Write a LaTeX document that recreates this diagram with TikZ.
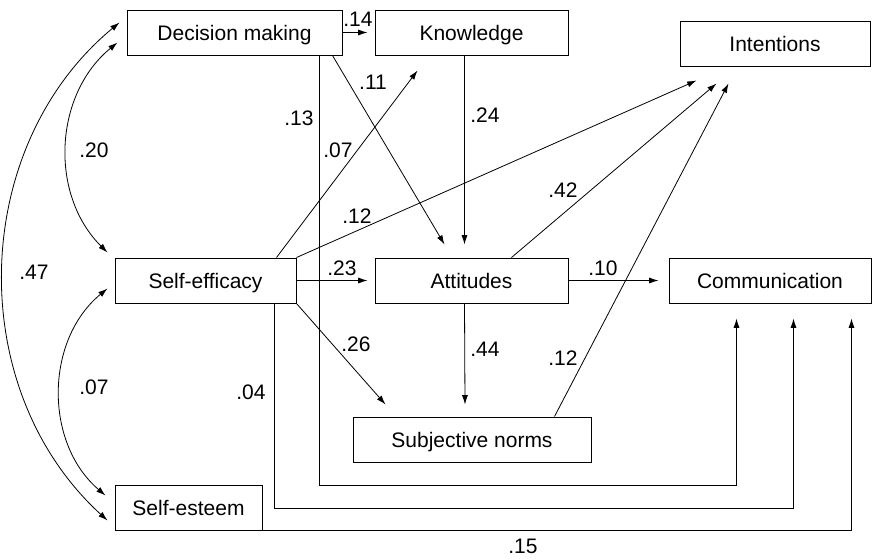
\documentclass[tikz,border=0pt]{standalone}
\usepackage{fontspec}
\setmainfont{Liberation Sans}
\usetikzlibrary{arrows.meta,calc}
\begin{document}
\begin{tikzpicture}[x=0.75pt, y=-0.75pt, font=\fontsize{15.75}{18}\selectfont,
  box/.style={draw, line width=0.75pt, minimum height=33.75pt, inner sep=0pt,
    text height=11.3pt, text depth=0pt},
  lbl/.style={inner sep=0pt},
  arr/.style={-{Latex[length=7pt,width=4.5pt]}, line width=0.6pt},
  both/.style={{Latex[length=7pt,width=4.5pt]}-{Latex[length=7pt,width=4.5pt]}, line width=0.6pt}]
  \useasboundingbox (0,0) rectangle (872,558);
  \node[box, minimum width=161.25pt] (dm) at (234.5,32.5) {Decision making};
  \node[box, minimum width=144.75pt] (know) at (471.5,32.5) {Knowledge};
  \node[box, minimum width=142.5pt] (int) at (775,43.5) {Intentions};
  \node[box, minimum width=135.75pt] (seff) at (205.5,280.5) {Self-efficacy};
  \node[box, minimum width=144.75pt] (att) at (471.5,280.5) {Attitudes};
  \node[box, minimum width=151.5pt] (comm) at (770,280.5) {Communication};
  \node[box, minimum width=178.5pt] (sn) at (472,439.5) {Subjective norms};
  \node[box, minimum width=110.25pt] (sest) at (188.5,507.5) {Self-esteem};
  \draw[arr] (dm.east) -- ($(know.west)+(-7,0)$);
  \draw[arr] ($(dm.south east)+(-10,0)$) -- ($(att.north west)+(70,-13)$);
  \draw[arr] ($(dm.south east)+(-23,0)$) -- ++(0,430) -| ($(comm.south west)+(68,15)$);
  \draw[arr] ($(seff.north east)+(-20,0)$) -- ($(know.south west)+(43,15)$);
  \draw[arr] (seff.north east) -- ($(int.south west)+(17,14)$);
  \draw[arr] (seff.east) -- ($(att.west)+(-7,0)$);
  \draw[arr] (seff.south east) -- ($(sn.north west)+(33,-12)$);
  \draw[arr] ($(seff.south east)+(-22,0)$) -- ++(0,205) -| ($(comm.south west)+(125,15)$);
  \draw[arr] (sest.south east) -| ($(comm.south east)+(-20,15)$);
  \draw[arr] ($(know.south)+(-7,0)$) -- ($(att.north)+(-7,-13)$);
  \draw[arr] ($(att.north west)+(137,0)$) -- ($(int.south west)+(37,17)$);
  \draw[arr] (att.east) -- ($(comm.west)+(-10,0)$);
  \draw[arr] ($(att.south)+(-7,0)$) -- ($(sn.north)+(-7,-12)$);
  \draw[arr] ($(sn.north west)+(202,0)$) -- ($(int.south west)+(49,17)$);
  \draw[both] ($(dm.west)+(-9,10)$) to[bend right=48] ($(seff.north west)+(-7,-5)$);
  \draw[both] ($(seff.west)+(-7,8)$) to[bend right=50] ($(sest.west)+(-9,-12)$);
  \draw[both] ($(dm.west)+(-7,-10)$) to[bend right=49] ($(sest.west)+(-7,13)$);
  \foreach \n/\x/\y/\t in {a/358/19/.14, b/373/82/.11, c/299/118/.13, d/338/150/.07,
      e/94/150/.20, f/357/216/.12, g/342/268/.23, h/34/272/.47, i/485/115/.24,
      j/563/190/.42, k/603/268/.10, l/356/344/.26, m/94/387/.07, n/251/392/.04,
      o/485/349/.44, p/563/358/.12, q/523/546/.15} {
    \node[lbl] (w\n) at (\x,\y) {\t};
  }
\end{tikzpicture}
\end{document}
